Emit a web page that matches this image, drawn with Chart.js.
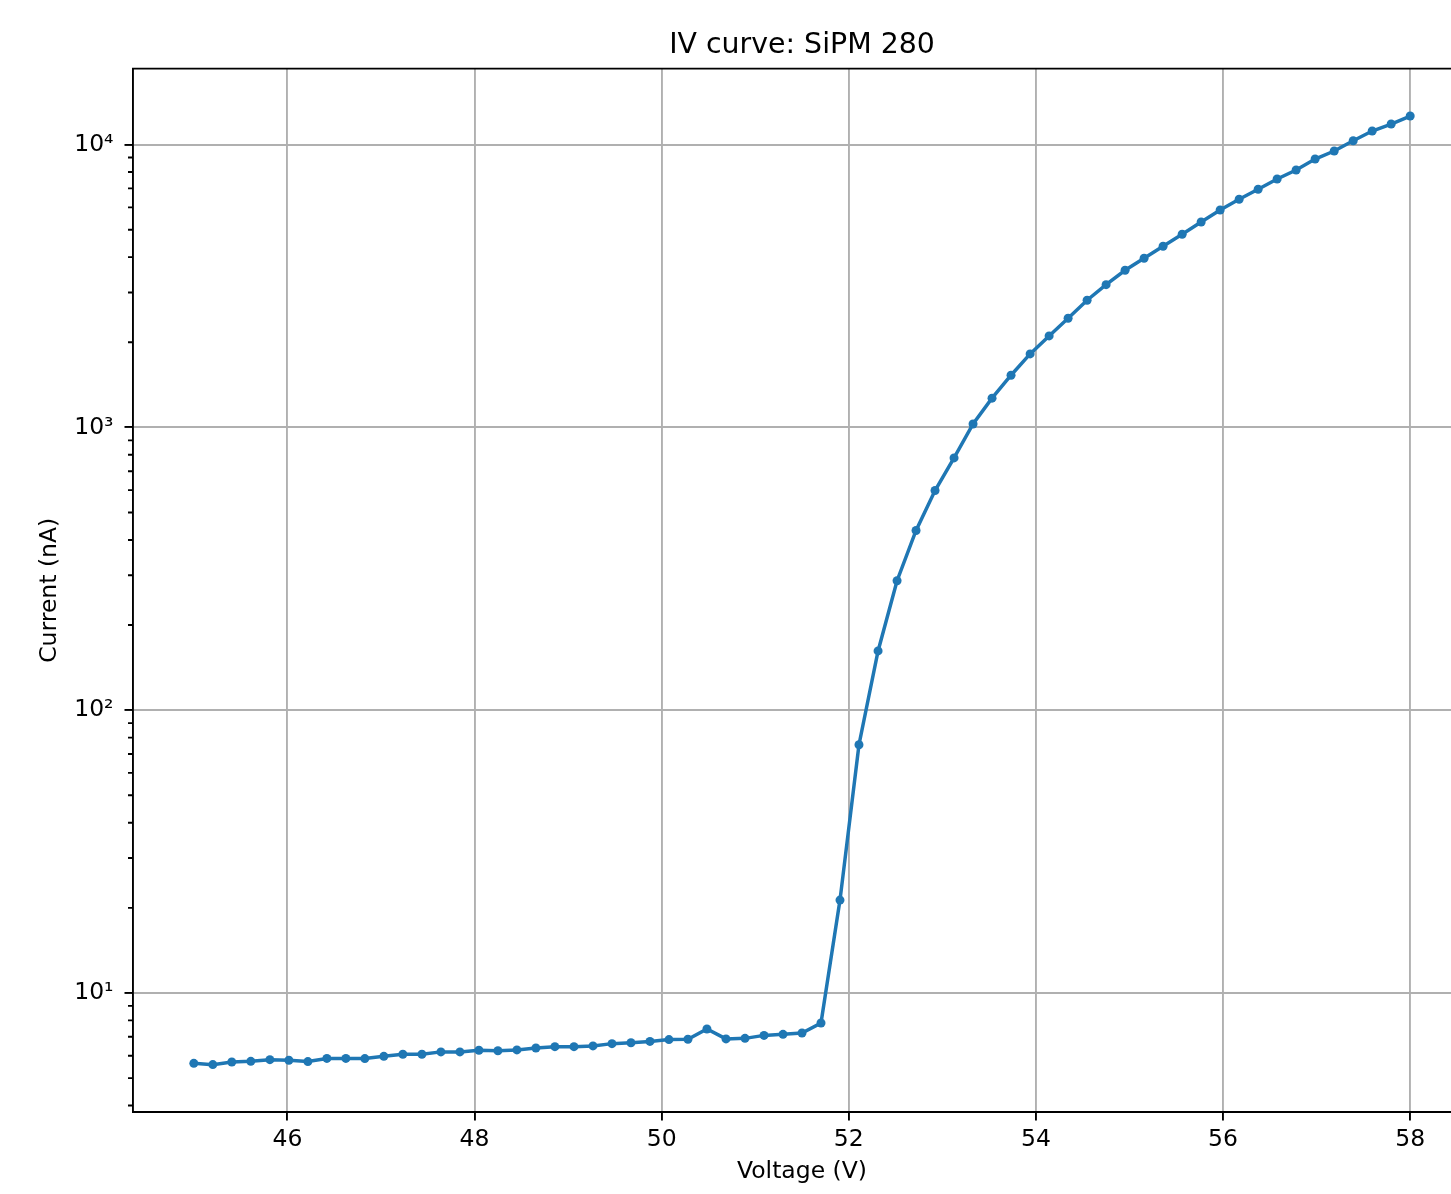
<!DOCTYPE html>
<html>
<head>
<meta charset="utf-8">
<title>IV curve: SiPM 280</title>
<script src="https://cdn.jsdelivr.net/npm/chart.js@4"></script>
<style>
  html, body { margin: 0; padding: 0; background: #fff; overflow: hidden; }
  #wrap { width: 1451px; height: 1194px; position: relative; overflow: hidden; }
  #ivChart { display: block; }
</style>
</head>
<body>
<div id="wrap"><canvas id="ivChart" width="1471" height="1194"></canvas></div>
<script>
// bias voltage (V), 65 steps from 45 to 58
var voltage = [
  45.000, 45.203, 45.406, 45.609, 45.813, 46.016, 46.219, 46.422, 46.625, 46.828,
  47.031, 47.234, 47.438, 47.641, 47.844, 48.047, 48.250, 48.453, 48.656, 48.859,
  49.063, 49.266, 49.469, 49.672, 49.875, 50.078, 50.281, 50.484, 50.688, 50.891,
  51.094, 51.297, 51.500, 51.703, 51.906, 52.109, 52.313, 52.516, 52.719, 52.922,
  53.125, 53.328, 53.531, 53.734, 53.938, 54.141, 54.344, 54.547, 54.750, 54.953,
  55.156, 55.359, 55.563, 55.766, 55.969, 56.172, 56.375, 56.578, 56.781, 56.984,
  57.188, 57.391, 57.594, 57.797, 58.000
]
// measured current (nA)
var current = [
  5.64, 5.58, 5.70, 5.73, 5.81, 5.78, 5.72, 5.87, 5.87, 5.86,
  5.97, 6.07, 6.07, 6.19, 6.19, 6.27, 6.25, 6.29, 6.39, 6.46,
  6.46, 6.50, 6.62, 6.67, 6.74, 6.84, 6.86, 7.46, 6.88, 6.91,
  7.08, 7.14, 7.22, 7.83, 21.3, 75.5, 162, 287, 432, 598,
  780, 1028, 1269, 1529, 1819, 2106, 2432, 2816, 3197, 3595,
  3964, 4370, 4819, 5325, 5873, 6407, 6950, 7557, 8134, 8893,
  9492, 10322, 11170, 11825, 12620
]
var xTicks = [46, 48, 50, 52, 54, 56, 58]
var yTicks = [10, 100, 1000, 10000]
var yMinorTicks = [4, 5, 6, 7, 8, 9, 20, 30, 40, 50, 60, 70, 80, 90,
  200, 300, 400, 500, 600, 700, 800, 900, 2000, 3000, 4000, 5000, 6000, 7000, 8000, 9000]
var supers = {'1': '\u00b9', '2': '\u00b2', '3': '\u00b3', '4': '\u2074'}

var FONT = 'DejaVu Sans'
var LW = 1.9

var points = voltage.map(function (v, i) { return {x: v, y: current[i]} })

// top spine + minor log ticks (matplotlib look)
var frame = {
  id: 'frame',
  afterDraw: function (chart) {
    var ctx = chart.ctx, a = chart.chartArea, ys = chart.scales.y
    ctx.save()
    ctx.strokeStyle = '#000'
    ctx.lineWidth = LW
    ctx.beginPath()
    ctx.moveTo(a.left - LW / 2, a.top)
    ctx.lineTo(a.right + LW / 2, a.top)
    ctx.lineTo(a.right + LW / 2, a.bottom)
    ctx.stroke()
    ctx.beginPath()
    yMinorTicks.forEach(function (v) {
      var p = ys.getPixelForValue(v)
      ctx.moveTo(a.left - 5, p)
      ctx.lineTo(a.left, p)
    })
    ctx.stroke()
    ctx.restore()
  }
}

var ctx = document.getElementById('ivChart')
var ivChart = new Chart(ctx, {
  type: 'line',
  data: {
    datasets: [{
      label: 'SiPM 280',
      data: points,
      borderColor: '#1f77b4',
      backgroundColor: '#1f77b4',
      borderWidth: 3.5,
      pointRadius: 4.5,
      pointBorderWidth: 0,
      pointBackgroundColor: '#1f77b4',
      tension: 0,
      fill: false
    }]
  },
  options: {
    responsive: false,
    animation: false,
    devicePixelRatio: 1,
    layout: { padding: 0, autoPadding: false },
    plugins: {
      legend: { display: false },
      tooltip: { enabled: false },
      title: {
        display: true,
        fullSize: false,
        text: 'IV curve: SiPM 280',
        color: '#000',
        font: { family: FONT, size: 28.4, weight: 'normal', lineHeight: 1.2 },
        padding: { top: 29, bottom: 5.5 }
      }
    },
    scales: {
      x: {
        type: 'linear',
        min: 44.35,
        max: 58.65,
        afterBuildTicks: function (s) { s.ticks = xTicks.map(function (v) { return {value: v} }) },
        afterFit: function (s) { s.height = 82; s.paddingLeft = 0; s.paddingRight = 0 },
        ticks: {
          color: '#000',
          font: { family: FONT, size: 23.5 },
          padding: 5,
          maxRotation: 0,
          callback: function (v) { return String(v) }
        },
        grid: { color: '#b0b0b0', lineWidth: LW, tickColor: '#000', tickWidth: LW, tickLength: 8.5 },
        border: { display: true, color: '#000', width: LW },
        title: {
          display: true,
          text: 'Voltage (V)',
          color: '#000',
          font: { family: FONT, size: 23.5, lineHeight: 1.2 },
          padding: { top: 0, bottom: 8 }
        }
      },
      y: {
        type: 'logarithmic',
        min: 3.794,
        max: 18572,
        afterBuildTicks: function (s) { s.ticks = yTicks.map(function (v) { return {value: v, major: true} }) },
        afterFit: function (s) { s.width = 133; s.paddingTop = 0; s.paddingBottom = 0 },
        ticks: {
          color: '#000',
          font: { family: FONT, size: 23.5 },
          padding: 11,
          callback: function (v) {
            var e = Math.round(Math.log10(v))
            return '10' + supers[String(e)]
          }
        },
        grid: { color: '#b0b0b0', lineWidth: LW, tickColor: '#000', tickWidth: LW, tickLength: 8.5 },
        border: { display: true, color: '#000', width: LW },
        title: {
          display: true,
          text: 'Current (nA)',
          color: '#000',
          font: { family: FONT, size: 23.5, lineHeight: 1.2 },
          padding: { top: 36, bottom: 0 }
        }
      }
    }
  },
  plugins: [frame]
})
</script>
</body>
</html>
